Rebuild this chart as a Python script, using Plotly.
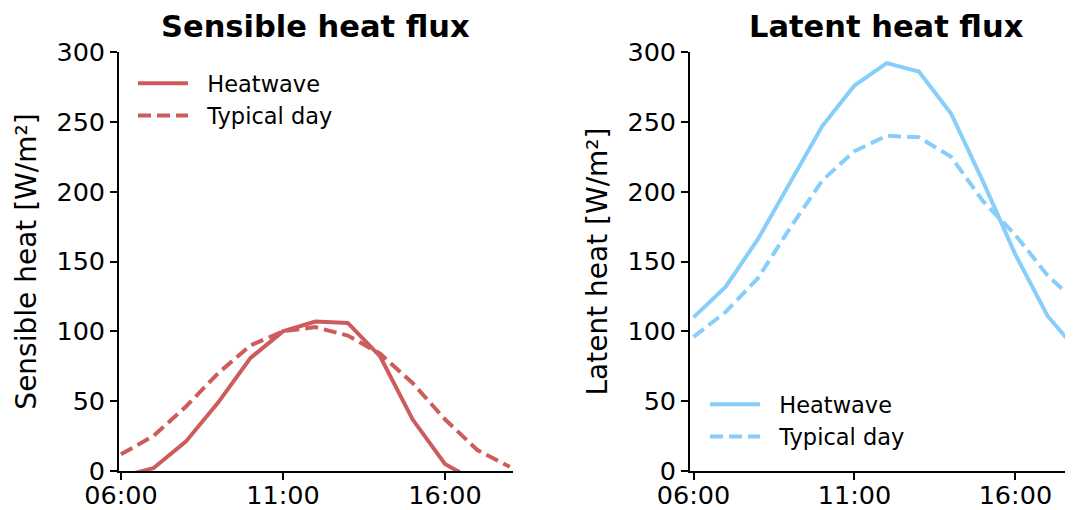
import plotly.graph_objects as go

hours = [6, 7, 8, 9, 10, 11, 12, 13, 14, 15, 16, 17, 18]
tick_vals = [6, 11, 16]
tick_text = ["06:00", "11:00", "16:00"]

sensible_heatwave = [-4, 2, 21, 49, 81, 100, 107, 106, 82, 37, 5, -8, -12]
sensible_typical = [12, 25, 46, 70, 90, 100, 103, 97, 84, 63, 37, 15, 3]
latent_heatwave = [110, 132, 166, 207, 247, 276, 292, 286, 256, 207, 155, 111, 84]
latent_typical = [96, 114, 138, 174, 208, 229, 240, 239, 225, 193, 169, 140, 119]

RED = "#CD5C5C"
BLUE = "#87CEFA"
FONT = "DejaVu Sans"
DASH = "13px,6px"
LW = 4
PAD = "\u00a0\u00a0"

fig = go.Figure()
fig.add_trace(go.Scatter(x=hours, y=sensible_heatwave, mode="lines", name=PAD + "Heatwave",
                         line=dict(color=RED, width=LW), xaxis="x", yaxis="y", legend="legend"))
fig.add_trace(go.Scatter(x=hours, y=sensible_typical, mode="lines", name=PAD + "Typical day",
                         line=dict(color=RED, width=LW, dash=DASH), xaxis="x", yaxis="y", legend="legend"))
fig.add_trace(go.Scatter(x=hours, y=latent_heatwave, mode="lines", name=PAD + "Heatwave",
                         line=dict(color=BLUE, width=LW), xaxis="x2", yaxis="y2", legend="legend2"))
fig.add_trace(go.Scatter(x=hours, y=latent_typical, mode="lines", name=PAD + "Typical day",
                         line=dict(color=BLUE, width=LW, dash=DASH), xaxis="x2", yaxis="y2", legend="legend2"))

# page body has an 8px margin; figure is sized to end exactly at the window edge
OFF = 8
W, H = 1073 - OFF, 510 - OFF


def px(v):
    return (v - OFF) / W


def py(v):
    return 1 - (v - OFF) / H


ydom = [py(471), py(52)]

axis_common = dict(showline=True, linecolor="black", linewidth=1.6, ticks="outside",
                   ticklen=7, tickwidth=1.6, tickcolor="black", showgrid=False, zeroline=False,
                   automargin=False,
                   tickfont=dict(family=FONT, size=25.5, color="black"))

fig.update_layout(
    width=W, height=H,
    margin=dict(l=0, r=0, t=0, b=0, autoexpand=False),
    plot_bgcolor="white", paper_bgcolor="white",
    font=dict(family=FONT, color="black"),
    xaxis=dict(domain=[px(119), px(513)], range=[5.94, 18.1], tickvals=tick_vals,
               ticktext=tick_text, anchor="y", ticklabelstandoff=-6, **axis_common),
    yaxis=dict(domain=ydom, range=[0, 300], tickvals=[0, 50, 100, 150, 200, 250, 300],
               anchor="x", title=dict(text="Sensible heat [W/m²]", font=dict(family=FONT, size=28),
                                      standoff=12), **axis_common),
    xaxis2=dict(domain=[px(690), 1.0], range=[5.89, 17.79], tickvals=tick_vals,
                ticktext=tick_text, anchor="y2", ticklabelstandoff=-6, **axis_common),
    yaxis2=dict(domain=ydom, range=[0, 300], tickvals=[0, 50, 100, 150, 200, 250, 300],
                anchor="x2", title=dict(text="Latent heat [W/m²]", font=dict(family=FONT, size=28),
                                        standoff=12), **axis_common),
    legend=dict(x=px(133), y=py(62), xanchor="left", yanchor="top",
                font=dict(family=FONT, size=22.5), bgcolor="rgba(0,0,0,0)", itemwidth=50,
                tracegroupgap=0),
    legend2=dict(x=px(705), y=py(383), xanchor="left", yanchor="top",
                 font=dict(family=FONT, size=22.5), bgcolor="rgba(0,0,0,0)", itemwidth=50,
                 tracegroupgap=0),
    annotations=[
        dict(text="<b>Sensible heat flux</b>", x=px(315), y=py(27),
             xref="paper", yref="paper", showarrow=False, xanchor="center", yanchor="middle",
             font=dict(family=FONT, size=30.5, color="black")),
        dict(text="<b>Latent heat flux</b>", x=px(886), y=py(27),
             xref="paper", yref="paper", showarrow=False, xanchor="center", yanchor="middle",
             font=dict(family=FONT, size=30.5, color="black")),
    ],
)

fig.write_html("out.html")
